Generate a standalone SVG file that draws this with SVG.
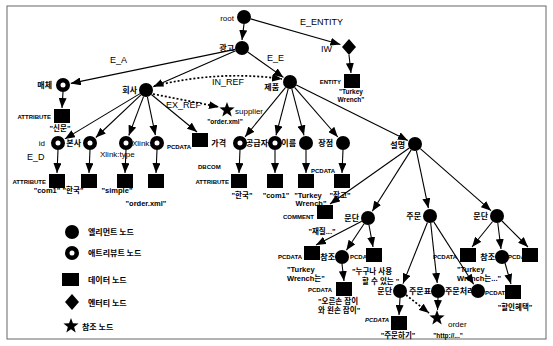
<svg xmlns="http://www.w3.org/2000/svg" width="553" height="346" viewBox="0 0 553 346">
<style>
.e{fill:#000}
.a{fill:#fff;stroke:#000;stroke-width:4.5}
.d{fill:#000}
.ln{stroke:#000;stroke-width:1.1;fill:none;marker-end:url(#ah)}
.dt{stroke:#000;stroke-width:1.7;fill:none;stroke-dasharray:2,2;marker-end:url(#ah)}
.k{font-family:"Noto Sans CJK KR","Noto Sans",sans-serif;font-size:8px;font-weight:bold;fill:#000}
.l{font-family:"Liberation Sans",Arial,sans-serif;font-size:9px;fill:#000}
.s{font-family:"Liberation Sans",Arial,sans-serif;font-size:6px;font-weight:bold;fill:#000}
.t{font-family:"Liberation Sans","Noto Sans CJK KR",sans-serif;font-size:7.5px;font-weight:bold;fill:#000}
.en{text-anchor:end}
.mid{text-anchor:middle}
</style>
<defs>
<marker id="ah" markerUnits="userSpaceOnUse" markerWidth="10" markerHeight="8" refX="10" refY="4" orient="auto"><path d="M0,0 L10,4 L0,8 Z" fill="#000"/></marker>
<path id="star" d="M0,-8 L1.94,-2.67 L7.61,-2.47 L3.14,1.02 L4.7,6.47 L0,3.3 L-4.7,6.47 L-3.14,1.02 L-7.61,-2.47 L-1.94,-2.67 Z" fill="#000"/>
<path id="dia" d="M0,-8 L7,0 L0,8 L-7,0 Z" fill="#000"/>
<rect id="box" x="-8" y="-7" width="16" height="14" fill="#000"/>
</defs>
<rect x="7" y="6" width="539" height="333" fill="none" stroke="#666" stroke-width="1"/>

<g id="connectors">
<line class="ln" x1="244" y1="24" x2="242" y2="40"/>
<line class="ln" x1="250.7" y1="18.9" x2="340.4" y2="44.5"/>
<line class="ln" x1="349" y1="55" x2="351" y2="73"/>
<line class="ln" x1="235.1" y1="49.4" x2="70.8" y2="83.4"/>
<line class="ln" x1="235.6" y1="50.8" x2="153.3" y2="86.8"/>
<line class="ln" x1="247.7" y1="52" x2="283.5" y2="77.4"/>
<line class="ln" x1="63" y1="92" x2="62" y2="108"/>
<line class="ln" x1="140" y1="93.6" x2="64.9" y2="138.9"/>
<line class="ln" x1="140.9" y1="94.8" x2="95.8" y2="137.5"/>
<line class="ln" x1="143.5" y1="96.6" x2="128.8" y2="135.5"/>
<line class="ln" x1="147.4" y1="96.9" x2="155.4" y2="135.2"/>
<line class="ln" x1="151.4" y1="94.5" x2="197" y2="132"/>
<path class="dt" d="M154,86 Q220,70 282,79"/>
<line class="dt" x1="153" y1="94" x2="219" y2="107"/>
<line class="ln" x1="285.6" y1="87.4" x2="245.1" y2="136.8"/>
<line class="ln" x1="288.2" y1="88.8" x2="276" y2="135.3"/>
<line class="ln" x1="291.8" y1="88.8" x2="304" y2="135.3"/>
<line class="ln" x1="294.6" y1="87.3" x2="337.8" y2="137"/>
<line class="ln" x1="296.3" y1="85.1" x2="407.8" y2="140.4"/>
<line class="ln" x1="58" y1="150" x2="57" y2="173"/>
<line class="ln" x1="90" y1="150" x2="89" y2="173"/>
<line class="ln" x1="126" y1="150" x2="125" y2="173"/>
<line class="ln" x1="157" y1="150" x2="156" y2="173"/>
<line class="ln" x1="240" y1="150" x2="239" y2="173"/>
<line class="ln" x1="275" y1="150" x2="275" y2="173"/>
<line class="ln" x1="306" y1="150" x2="306" y2="173"/>
<line class="ln" x1="343" y1="150" x2="342" y2="173"/>
<line class="ln" x1="409.3" y1="148" x2="330" y2="204"/>
<line class="ln" x1="411.2" y1="149.9" x2="372.3" y2="211.2"/>
<line class="ln" x1="416.4" y1="150.9" x2="428.4" y2="208.2"/>
<line class="ln" x1="420.3" y1="148.6" x2="491" y2="210.7"/>
<line class="ln" x1="361.8" y1="221.2" x2="316" y2="245"/>
<line class="ln" x1="364.1" y1="223.8" x2="346.4" y2="250.3"/>
<line class="ln" x1="369" y1="225" x2="373" y2="247"/>
<line class="ln" x1="342" y1="264" x2="344" y2="281"/>
<line class="ln" x1="427.4" y1="222.5" x2="403" y2="283.6"/>
<line class="ln" x1="430.7" y1="223" x2="437.2" y2="283"/>
<line class="ln" x1="433.8" y1="221.9" x2="473.7" y2="284.3"/>
<line class="ln" x1="400" y1="298" x2="399" y2="315"/>
<line class="dt" x1="406" y1="295" x2="429" y2="313"/>
<line class="ln" x1="438" y1="298" x2="437.5" y2="310"/>
<line class="ln" x1="492.6" y1="221.5" x2="472" y2="247"/>
<line class="ln" x1="497.8" y1="223" x2="501" y2="249"/>
<line class="ln" x1="502" y1="221" x2="528" y2="247"/>
<line class="ln" x1="505" y1="263" x2="511" y2="284"/>
</g>

<g id="edge-labels">
<text class="l" x="300" y="25">E_ENTITY</text>
<text class="l" x="110" y="63">E_A</text>
<text class="l" x="267" y="61">E_E</text>
<text class="l" x="212" y="85">IN_REF</text>
<text class="l" x="166" y="108">EX_REF</text>
<text class="l" x="27" y="160">E_D</text>
</g>

<g id="root"><circle class="e" cx="244" cy="17" r="7"/><text class="l en" x="234" y="21" style="font-size:8px">root</text></g>
<g id="gwanggo"><circle class="e" cx="242" cy="48" r="7"/><text class="k en" x="234" y="51">광고</text></g>
<g id="iw"><use href="#dia" x="349" y="47"/><text class="l" x="321" y="52">IW</text></g>
<g id="entity-data"><use href="#box" x="352" y="81"/><text class="s en" x="341" y="84">ENTITY</text><text class="t mid" x="351" y="94" style="font-size:6.5px">"Turkey</text><text class="t mid" x="351" y="102" style="font-size:6.5px">Wrench"</text></g>
<g id="maeche"><circle class="a" cx="63" cy="85" r="4.75"/><text class="k en" x="52" y="88">매체</text></g>
<g id="maeche-data"><use href="#box" x="62" y="116"/><text class="s en" x="51" y="119">ATTRIBUTE</text><text class="t mid" x="60" y="131">"신문"</text></g>
<g id="hoesa"><circle class="e" cx="146" cy="90" r="7"/><text class="k en" x="137" y="93">회사</text></g>
<g id="jepum"><circle class="e" cx="290" cy="82" r="7"/><text class="k en" x="279" y="90">제품</text></g>
<g id="supplier"><use href="#star" x="227" y="110"/><text class="l" x="235" y="114" style="font-size:8px">supplier</text><text class="t mid" x="225" y="124" style="font-size:6.5px">"order.xml"</text></g>

<g id="id"><text class="l en" x="45" y="146" style="font-size:8px">id</text><circle class="a" cx="58" cy="143" r="4.75"/></g>
<g id="bonsa"><text class="k en" x="81" y="146">본사</text><circle class="a" cx="90" cy="143" r="4.75"/></g>
<g id="xlinktype"><circle class="a" cx="126" cy="143" r="4.75"/><text class="l" x="100" y="157" style="font-size:8px">Xlink:type</text></g>
<g id="xlinkref"><text class="l" x="132" y="146" style="font-size:8px">Xlink:ref</text><circle class="a" cx="157" cy="143" r="4.75"/></g>
<g id="hoesa-data"><use href="#box" x="200" y="140"/><text class="s en" x="191" y="149">PCDATA</text><text class="s" x="198" y="169">DBCOM</text></g>
<g id="id-data"><use href="#box" x="57" y="181"/><text class="s en" x="46" y="184">ATTRIBUTE</text><text class="t mid" x="47" y="193">"com1"</text></g>
<g id="bonsa-data"><use href="#box" x="89" y="181"/><text class="t mid" x="73" y="193">"한국"</text></g>
<g id="xlinktype-data"><use href="#box" x="125" y="181"/><text class="t mid" x="117" y="193">"simple"</text></g>
<g id="xlinkref-data"><use href="#box" x="156" y="181"/><text class="t mid" x="146" y="206">"order.xml"</text></g>

<g id="gagyeok"><text class="k en" x="226" y="146">가격</text><circle class="a" cx="240" cy="143" r="4.75"/></g>
<g id="gonggeupja"><text class="k en" x="268" y="146">공급자</text><circle class="a" cx="275" cy="143" r="4.75"/></g>
<g id="ireum"><text class="k en" x="296" y="146">이름</text><circle class="e" cx="306" cy="143" r="7"/></g>
<g id="jangjeom"><text class="k en" x="333" y="146">장점</text><circle class="e" cx="343" cy="143" r="7"/></g>
<g id="gagyeok-data"><use href="#box" x="239" y="181"/><text class="s en" x="229" y="184">ATTRIBUTE</text><text class="t mid" x="242" y="198">"한국"</text></g>
<g id="gonggeupja-data"><use href="#box" x="275" y="181"/><text class="t mid" x="276" y="198">"com1"</text></g>
<g id="ireum-data"><use href="#box" x="306" y="181"/><text class="s" x="311" y="173">PCDATA</text><text class="t mid" x="308" y="198">"Turkey</text><text class="t mid" x="311" y="206">Wrench"</text></g>
<g id="jangjeom-data"><use href="#box" x="342" y="181"/><text class="t mid" x="340" y="198">"작고"</text></g>

<g id="seolmyeong"><circle class="e" cx="415" cy="144" r="7"/><text class="k en" x="405" y="148">설명</text></g>
<g id="comment"><use href="#box" x="325" y="212"/><text class="s en" x="314" y="219">COMMENT</text><text class="t mid" x="322" y="234">"재질..."</text></g>
<g id="mundan1"><circle class="e" cx="368" cy="218" r="7"/><text class="k en" x="359" y="221">문단</text></g>
<g id="jumun"><circle class="e" cx="430" cy="216" r="7"/><text class="k en" x="421" y="219">주문</text></g>
<g id="mundan2"><circle class="e" cx="497" cy="216" r="7"/><text class="k en" x="488" y="219">문단</text></g>

<g id="m1-data1"><use href="#box" x="312" y="253"/><text class="s en" x="302" y="259">PCDATA</text><text class="t" x="287" y="272">"Turkey</text><text class="t" x="287" y="281">Wrench는"</text></g>
<g id="chamjo1"><circle class="e" cx="342" cy="257" r="7"/><text class="k en" x="335" y="260">참조</text></g>
<g id="m1-data2"><text class="s" x="350" y="259">PCDATA</text><use href="#box" x="374" y="255"/><text class="t" x="352" y="274">"누구나 사용</text><text class="t" x="362" y="284">할 수 있는 "</text></g>
<g id="chamjo1-data"><use href="#box" x="344" y="289"/><text class="s en" x="332" y="292">PCDATA</text><text class="t" x="318" y="304">"오른손 잡이</text><text class="t" x="318" y="313">와 왼손 잡이"</text></g>

<g id="mundan3"><circle class="e" cx="400" cy="291" r="7"/><text class="k en" x="392" y="294">문단</text></g>
<g id="mundan3-data"><use href="#box" x="399" y="323"/><text class="s en" x="389" y="322" font-style="italic">PCDATA</text><text class="t mid" x="398" y="338">"주문하기"</text></g>
<g id="jumunpyo"><circle class="e" cx="438" cy="291" r="7"/><text class="k en" x="431" y="294">주문표</text></g>
<g id="jumuncheori"><text class="k" x="445" y="294">주문처리</text><circle class="e" cx="478" cy="291" r="7"/></g>
<g id="order"><use href="#star" x="437" y="318"/><text class="l" x="448" y="327" style="font-size:8px">order</text><text class="t mid" x="448" y="338" style="font-size:6.5px">"http://..."</text></g>

<g id="m2-data1"><text class="s" x="433" y="259">PCDATA</text><use href="#box" x="468" y="255"/><text class="t" x="457" y="272">"Turkey</text><text class="t" x="457" y="281">Wrench는..."</text></g>
<g id="chamjo2"><circle class="e" cx="502" cy="257" r="7"/><text class="k en" x="495" y="260">참조</text></g>
<g id="m2-data2"><text class="s" x="508" y="259">PCDATA</text><use href="#box" x="530" y="255"/></g>
<g id="chamjo2-data"><text class="s" x="485" y="295">PCDATA</text><use href="#box" x="513" y="292"/><text class="t mid" x="515" y="310">"할인혜택"</text></g>

<g id="legend">
<circle class="e" cx="72" cy="232" r="7"/><text class="k" x="88" y="235">엘리먼트 노드</text>
<circle class="a" cx="72" cy="253" r="4.75"/><text class="k" x="88" y="256">애트리뷰트 노드</text>
<rect x="62" y="273" width="17" height="13" fill="#000"/><text class="k" x="88" y="283">데이터 노드</text>
<use href="#dia" x="72" y="302"/><text class="k" x="88" y="306">엔터티 노드</text>
<use href="#star" x="71" y="326"/><text class="k" x="82" y="330">참조 노드</text>
</g>
</svg>
